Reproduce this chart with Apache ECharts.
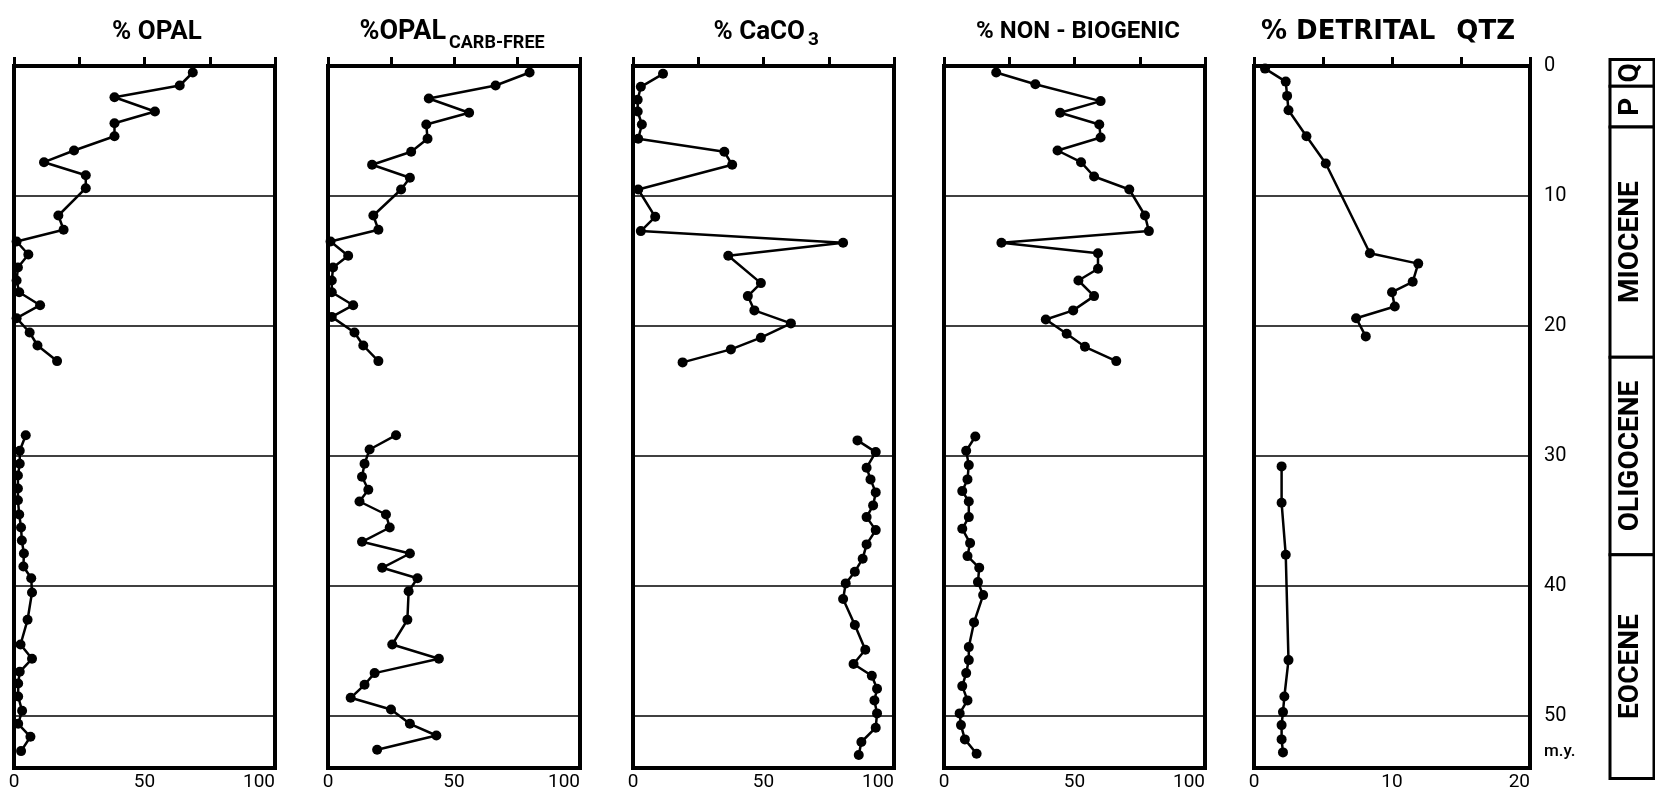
<!DOCTYPE html>
<html>
<head>
<meta charset="utf-8">
<title>opal / CaCO3 / non-biogenic / detrital qtz</title>
<script src="https://cdn.jsdelivr.net/npm/echarts@6/dist/echarts.min.js"></script>
<style>
  body { margin: 0; padding: 0; background: #fff; }
  #chart { width: 1655px; height: 792px; }
</style>
</head>
<body>
<div id="chart"></div>
<script>
// ages in m.y.
var opalAgeUp = [0.5, 1.5, 2.4, 3.5, 4.4, 5.4, 6.5, 7.4, 8.4, 9.4, 11.5, 12.6, 13.5, 14.5, 15.5, 16.5, 17.4, 18.4, 19.4, 20.5, 21.5, 22.7];
var opalUp = [68.5, 63.5, 38.5, 54, 38.5, 38.5, 23, 11.5, 27.5, 27.5, 17, 19, 1, 5.5, 1.5, 1, 2, 10, 1, 6, 9, 16.5];
var opalAgeLow = [28.4, 29.6, 30.6, 31.5, 32.5, 33.4, 34.5, 35.5, 36.5, 37.5, 38.5, 39.4, 40.5, 42.6, 44.5, 45.6, 46.6, 47.5, 48.5, 49.6, 50.6, 51.6, 52.7];
var opalLow = [4.5, 2.2, 2.2, 1.5, 1.5, 1.5, 2, 2.7, 3, 3.8, 3.6, 6.6, 6.9, 5.2, 2.5, 6.9, 2.2, 1.6, 1.6, 3.1, 1.6, 6.3, 2.7];

var cfAgeUp = [0.5, 1.5, 2.5, 3.6, 4.5, 5.6, 6.6, 7.6, 8.6, 9.5, 11.5, 12.6, 13.5, 14.6, 15.5, 16.5, 17.4, 18.4, 19.3, 20.5, 21.5, 22.7];
var cfUp = [80, 66.5, 40, 56, 39, 39.5, 33, 17.5, 32.5, 29, 18, 20, 1, 8, 2, 1.5, 1.5, 10, 1.5, 10.5, 14, 20];
var cfAgeLow = [28.4, 29.5, 30.6, 31.6, 32.6, 33.5, 34.5, 35.5, 36.6, 37.5, 38.6, 39.4, 40.4, 42.6, 44.5, 45.6, 46.7, 47.6, 48.6, 49.5, 50.6, 51.5, 52.6];
var cfLow = [27, 16.5, 14.5, 13.5, 16, 12.5, 23, 24.5, 13.5, 32.5, 21.5, 35.5, 32, 31.5, 25.5, 44, 18.5, 14.5, 9, 25, 32.5, 43, 19.5];

var caAgeUp = [0.6, 1.6, 2.6, 3.5, 4.5, 5.6, 6.6, 7.6, 9.5, 11.6, 12.7, 13.6, 14.6, 16.7, 17.7, 18.8, 19.8, 20.9, 21.8, 22.8];
var caUp = [11.5, 3, 1.8, 1.8, 3.4, 2, 35, 38, 2, 8.5, 3, 80.5, 36.5, 49, 44, 46.5, 60.5, 49, 37.5, 19];
var caAgeLow = [28.8, 29.7, 30.9, 31.8, 32.8, 33.8, 34.7, 35.7, 36.8, 37.9, 38.9, 39.8, 41, 43, 44.9, 46, 46.9, 47.9, 48.8, 49.8, 50.9, 52, 53];
var caLow = [86, 93, 89.5, 91, 93, 92, 89.5, 93, 89.5, 88, 85, 81.5, 80.5, 85, 89, 84.5, 91.5, 93.5, 92.5, 93.5, 93, 87.5, 86.5];

var nbAgeUp = [0.5, 1.4, 2.7, 3.6, 4.5, 5.5, 6.5, 7.4, 8.5, 9.5, 11.5, 12.7, 13.6, 14.4, 15.6, 16.5, 17.7, 18.8, 19.5, 20.6, 21.6, 22.7];
var nbUp = [20, 35, 60, 44.5, 59.5, 60, 43.5, 52.5, 57.5, 71, 77, 78.5, 22, 59, 59, 51.5, 57.5, 49.5, 39, 47, 54, 66];
var nbAgeLow = [28.5, 29.6, 30.7, 31.8, 32.7, 33.5, 34.7, 35.6, 36.7, 37.7, 38.6, 39.7, 40.7, 42.8, 44.7, 45.7, 46.7, 47.7, 48.8, 49.8, 50.7, 51.8, 52.9];
var nbLow = [12, 8.5, 9.5, 9, 7, 9.5, 9.5, 7, 10, 9, 13.5, 13, 15, 11.5, 9.5, 9.5, 8.5, 7, 9, 6, 6.5, 8, 12.5];

var qtzAgeUp = [0.2, 1.2, 2.3, 3.4, 5.4, 7.5, 14.4, 15.2, 16.6, 17.4, 18.5, 19.4, 20.8];
var qtzUp = [0.8, 2.3, 2.4, 2.5, 3.8, 5.2, 8.4, 11.9, 11.5, 10, 10.2, 7.4, 8.1];
var qtzAgeLow = [30.8, 33.6, 37.6, 45.7, 48.5, 49.7, 50.7, 51.8, 52.8];
var qtzLow = [2, 2, 2.3, 2.5, 2.2, 2.1, 2, 2, 2.1];

var epochNames = ['Q', 'P', 'MIOCENE', 'OLIGOCENE', 'EOCENE'];
var epochTops = [-0.5, 1.55, 4.7, 22.4, 37.6];
var epochBases = [1.55, 4.7, 22.4, 37.6, 54.8];

var ageTicks = [0, 10, 20, 30, 40, 50];

function seg(ages, vals) {
  return ages.map(function (a, i) { return [vals[i], a]; });
}
function joined(au, vu, al, vl) {
  return seg(au, vu).concat([['-', '-']], seg(al, vl));
}

var panels = [
  { left: 14, width: 261, max: 100, step: 25, data: joined(opalAgeUp, opalUp, opalAgeLow, opalLow) },
  { left: 328, width: 252, max: 100, step: 25, data: joined(cfAgeUp, cfUp, cfAgeLow, cfLow) },
  { left: 633, width: 261, max: 100, step: 25, data: joined(caAgeUp, caUp, caAgeLow, caLow) },
  { left: 944, width: 261, max: 100, step: 25, data: joined(nbAgeUp, nbUp, nbAgeLow, nbLow) },
  { left: 1254, width: 276, max: 20, step: 5, data: joined(qtzAgeUp, qtzUp, qtzAgeLow, qtzLow) }
];

var grids = [], xAxes = [], yAxes = [], series = [];
panels.forEach(function (p, i) {
  grids.push({
    left: p.left, top: 66, width: p.width, height: 702,
    show: true, borderColor: '#000', borderWidth: 4, backgroundColor: '#fff'
  });
  xAxes.push({
    type: 'value', gridIndex: i, min: 0, max: p.max, interval: p.step,
    axisLine: { show: false },
    axisTick: { show: true, inside: true, length: 9, lineStyle: { color: '#000', width: 3 } },
    splitLine: { show: false },
    axisLabel: {
      color: '#000', fontSize: 19, fontFamily: 'Roboto', margin: 5, alignMaxLabel: 'right',
      formatter: function (v) { return v % (p.step * 2) === 0 ? String(v) : ''; }
    }
  });
  var last = i === panels.length - 1;
  yAxes.push({
    type: 'value', gridIndex: i, inverse: true, min: 0, max: 54, interval: 10,
    position: 'right',
    axisLine: { show: false },
    axisTick: { show: false },
    splitLine: { show: true, lineStyle: { color: '#000', width: 1.5 } },
    axisLabel: {
      show: last, color: '#000', fontSize: 20, fontFamily: 'Roboto', margin: 14,
      showMaxLabel: false,
      formatter: function (v) { return ageTicks.indexOf(v) >= 0 ? String(v) : ''; }
    }
  });
  series.push({
    type: 'line', xAxisIndex: i, yAxisIndex: i, data: p.data,
    symbol: 'circle', symbolSize: 10, showSymbol: true,
    lineStyle: { color: '#000', width: 2.5 },
    itemStyle: { color: '#000' },
    connectNulls: false, clip: false, animation: false, z: 5
  });
});

// stratigraphic column
grids.push({ left: 1610, top: 59.5, width: 44, height: 718.9, show: false });
xAxes.push({ type: 'value', gridIndex: 5, min: 0, max: 1, show: false });
yAxes.push({ type: 'value', gridIndex: 5, inverse: true, min: -0.5, max: 54.8, show: false });
series.push({
  type: 'custom', xAxisIndex: 5, yAxisIndex: 5, animation: false,
  data: epochTops.map(function (t, i) { return [t, epochBases[i], i]; }),
  renderItem: function (params, api) {
    var a = api.coord([0, api.value(0)]);
    var b = api.coord([1, api.value(1)]);
    return {
      type: 'group',
      children: [
        { type: 'rect', shape: { x: a[0], y: a[1], width: b[0] - a[0], height: b[1] - a[1] },
          style: { fill: '#fff', stroke: '#000', lineWidth: 3 } },
        { type: 'text', x: (a[0] + b[0]) / 2 - 1, y: (a[1] + b[1]) / 2, rotation: Math.PI / 2,
          style: { text: epochNames[api.value(2)], font: 'bold 28px Roboto', fill: '#000',
                   align: 'center', verticalAlign: 'middle' } }
      ]
    };
  }
});

function txt(x, y, s, font, align) {
  return { type: 'text', x: x, y: y, silent: true,
    style: { text: s, font: font, fill: '#000', align: align, verticalAlign: 'middle',
             textAlign: align, textVerticalAlign: 'middle' } };
}
var tf = 'bold 26px Roboto';
var graphics = [
  txt(157, 32, '% OPAL', tf, 'center'),
  txt(446, 32, '%OPAL', 'bold 27px Roboto', 'right'),
  txt(449, 43, 'CARB-FREE', 'bold 18px Roboto', 'left'),
  txt(805, 32, '% CaCO', tf, 'right'),
  txt(808, 40, '3', 'bold 19px Roboto', 'left'),
  txt(1078, 32, '% NON - BIOGENIC', 'bold 24px Roboto', 'center'),
  txt(1261, 32, '% DETRITAL', 'bold 26px "DejaVu Sans"', 'left'),
  txt(1515, 32, 'QTZ', 'bold 26px "DejaVu Sans"', 'right'),
  txt(1544, 752, 'm.y.', '500 17px Roboto', 'left')
];

var chart = echarts.init(document.getElementById('chart'));
chart.setOption({
  backgroundColor: '#fff',
  animation: false,
  grid: grids,
  xAxis: xAxes,
  yAxis: yAxes,
  series: series,
  graphic: graphics
});
</script>
</body>
</html>
